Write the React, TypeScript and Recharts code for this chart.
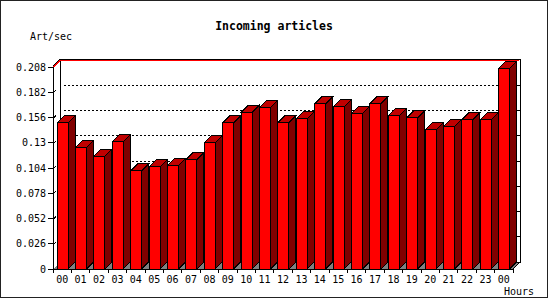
import React from "react";
import { BarChart, Bar, XAxis, YAxis, CartesianGrid, ReferenceArea } from "recharts";

// hour of day (last bar is the next midnight)
const hours = ["00", "01", "02", "03", "04", "05", "06", "07", "08", "09", "10", "11",
  "12", "13", "14", "15", "16", "17", "18", "19", "20", "21", "22", "23", "00"];

// articles per second
const rates = [0.1506, 0.1248, 0.1159, 0.131, 0.1011, 0.1052, 0.1063, 0.1125, 0.13, 0.1506,
  0.161, 0.1661, 0.1506, 0.1548, 0.1702, 0.1671, 0.16, 0.1702, 0.1579, 0.1558,
  0.1434, 0.1465, 0.1537, 0.1537, 0.2064];

const yTicks = [0, 0.026, 0.052, 0.078, 0.104, 0.13, 0.156, 0.182, 0.208];
const maxRate = 0.208;

const data = hours.map((hour, i) => ({ hour, rate: rates[i] }));

const D = 7; // depth of the fake 3d
const FONT = "'DejaVu Sans Mono', monospace";

function Bar3D(props: any) {
  const { x, y, width: w, height: h } = props;
  if (h == null || h <= 0) return null;
  const top = `${x},${y} ${x + D},${y - D} ${x + w + D},${y - D} ${x + w},${y}`;
  const side = `${x + w},${y} ${x + w + D},${y - D} ${x + w + D},${y + h - D} ${x + w},${y + h}`;
  return (
    <g stroke="#000" strokeWidth={1}>
      <rect x={x} y={y} width={w} height={h} fill="#ff0000" />
      <polygon points={top} fill="#c00000" />
      <polygon points={side} fill="#800000" />
    </g>
  );
}

// walls, floor and the red max line; the area spans 0..maxRate so y is the max
function Walls(props: any) {
  const { x, y, width: w, height: h } = props;
  const b = y + h;
  const t = y - D - 0.5;
  const r = y - D + 0.5;
  const floor = `${x},${b} ${x + D},${b - D} ${x + w + D},${b - D} ${x + w},${b}`;
  return (
    <g>
      <polygon points={floor} fill="#808080" />
      <rect x={x + D} y={t} width={w} height={b - D - t} fill="#fff" stroke="#000" />
      <line x1={x} y1={y - 0.5} x2={x + D} y2={t} stroke="#000" />
      <line x1={x} y1={y - 0.5} x2={x} y2={b} stroke="#000" />
      <line x1={x + w} y1={b} x2={x + w + D} y2={b - D} stroke="#000" />
      <line x1={x} y1={y + 0.5} x2={x + D} y2={r} stroke="#ff0000" />
      <line x1={x + D} y1={r} x2={x + w + D - 1} y2={r} stroke="#ff0000" />
    </g>
  );
}

function GridRow(props: any) {
  const { x1, y1, x2, key } = props;
  return (
    <g key={key} stroke="#000">
      <line x1={x1 + D + 4} y1={y1 - D} x2={x2 + D} y2={y1 - D} strokeDasharray="2 2" />
      <line x1={x1 + 1} y1={y1} x2={x1 + 3} y2={y1 - 2} />
      <line x1={x2 + D - 4} y1={y1 - D} x2={x2 + D} y2={y1 - D} />
    </g>
  );
}

function HourTick(props: any) {
  const { x, y, payload, index, width, visibleTicksCount } = props;
  const slot = width / visibleTicksCount;
  const left = x - slot / 2;
  return (
    <g>
      <line x1={left} y1={y - 4} x2={left} y2={y} stroke="#000" />
      {index === visibleTicksCount - 1 && (
        <line x1={x + slot / 2} y1={y - 4} x2={x + slot / 2} y2={y} stroke="#000" />
      )}
      <text x={x} y={y + 10} textAnchor="middle" fontSize={10} fontFamily={FONT} fill="#000">
        {payload.value}
      </text>
    </g>
  );
}

export default function App() {
  return (
    <div style={{ position: "absolute", left: 0, top: 0, width: 550, height: 300, background: "#fff" }}>
      <BarChart
        width={550}
        height={300}
        data={data}
        margin={{ top: 67, right: 37, bottom: 0, left: 0 }}
        style={{ shapeRendering: "crispEdges" }}
      >
        <ReferenceArea y1={0} y2={maxRate} shape={<Walls />} zIndex={-200} />
        <CartesianGrid
          vertical={false}
          horizontal={GridRow}
          horizontalValues={yTicks.slice(1, -1)}
          zIndex={-100}
        />
        <XAxis
          dataKey="hour"
          interval={0}
          tickLine={false}
          tickSize={4}
          tickMargin={0}
          height={31}
          axisLine={{ stroke: "#000" }}
          tick={<HourTick />}
        />
        <YAxis
          domain={[0, maxRate]}
          ticks={yTicks}
          width={53}
          tickSize={5}
          tickMargin={2}
          axisLine={{ stroke: "#000" }}
          tickLine={{ stroke: "#000" }}
          tick={{ fill: "#000", fontSize: 10, fontFamily: FONT }}
          tickFormatter={(v: number) => String(v)}
        />
        <Bar dataKey="rate" barSize={11} shape={<Bar3D />} isAnimationActive={false} />
      </BarChart>
      <svg width={550} height={300} style={{ position: "absolute", left: 0, top: 0, pointerEvents: "none" }}>
        <rect x={0.5} y={0.5} width={547} height={297} fill="none" stroke="#222" />
        <text x={274} y={30} textAnchor="middle" fontSize={11.5} fontWeight="bold" fontFamily={FONT}>
          Incoming articles
        </text>
        <text x={30} y={40} fontSize={10} fontFamily={FONT}>Art/sec</text>
        <text x={504} y={295} fontSize={10} fontFamily={FONT}>Hours</text>
      </svg>
    </div>
  );
}
